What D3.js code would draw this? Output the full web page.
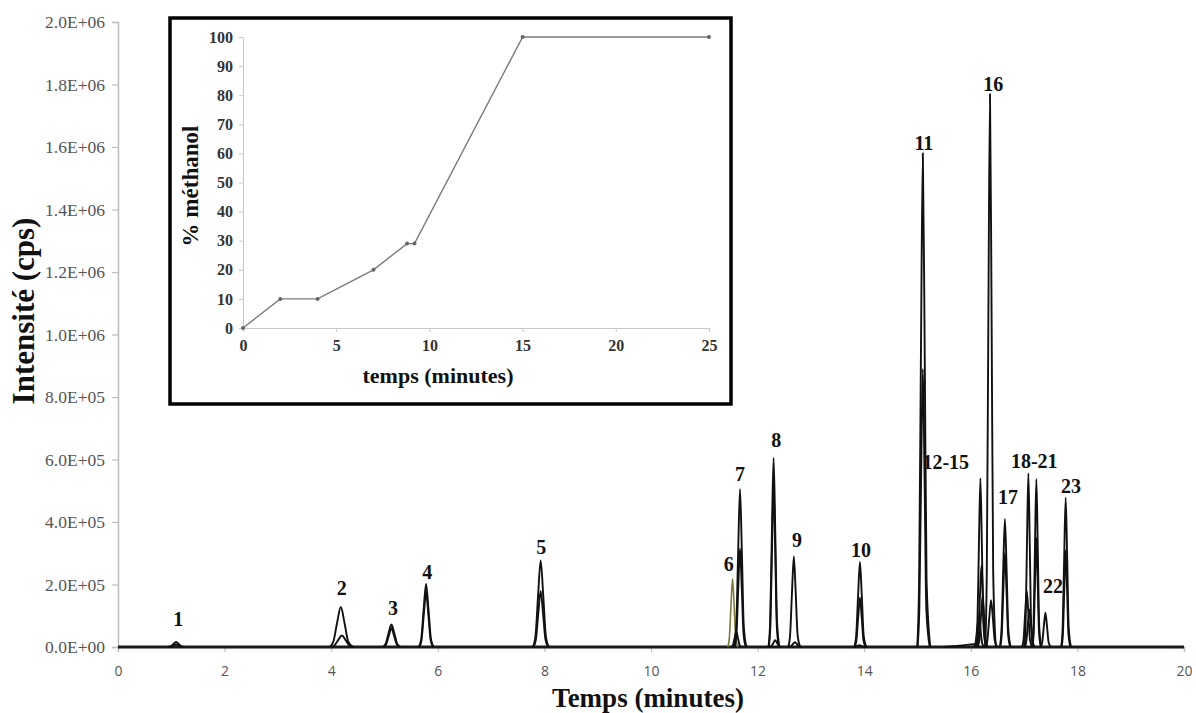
<!DOCTYPE html>
<html><head><meta charset="utf-8">
<script src="https://cdn.jsdelivr.net/npm/d3@7"></script>
<style>html,body{margin:0;padding:0;background:#fff;}svg{display:block;}</style>
</head><body>
<svg id="chart" width="1196" height="713"></svg>
<script>
// ---------- DATA ----------
const xTicks = [0,2,4,6,8,10,12,14,16,18,20];
const yTicks = [0,2e5,4e5,6e5,8e5,1e6,1.2e6,1.4e6,1.6e6,1.8e6,2e6];
const yTickLabels = ["0.0E+00","2.0E+05","4.0E+05","6.0E+05","8.0E+05","1.0E+06","1.2E+06","1.4E+06","1.6E+06","1.8E+06","2.0E+06"];

// chromatogram traces: [time (min), intensity (cps)]
const tracesBlack = [
  [[0.94,0],[0.99,2200],[1.04,9600],[1.09,16000],[1.14,9600],[1.19,2200],[1.24,0]],
  [[0.94,0],[0.99,1100],[1.04,4800],[1.09,8000],[1.14,4800],[1.19,1100],[1.24,0]],
  [[3.97,0],[4.04,17000],[4.11,77000],[4.18,128000],[4.25,77000],[4.32,17000],[4.41,0]],
  [[3.99,0],[4.06,5000],[4.13,22000],[4.20,37000],[4.27,22000],[4.34,5000],[4.43,0]],
  [[4.965,0],[5.02,9700],[5.075,43000],[5.13,72000],[5.185,43000],[5.24,9700],[5.30,0]],
  [[4.98,0],[5.03,8100],[5.08,36000],[5.13,60000],[5.18,36000],[5.23,8100],[5.29,0]],
  [[5.645,0],[5.69,27000],[5.735,121000],[5.78,202000],[5.825,121000],[5.87,27000],[5.92,0]],
  [[5.654,0],[5.696,24000],[5.738,105000],[5.78,175000],[5.822,105000],[5.864,24000],[5.91,0]],
  [[7.786,0],[7.834,37000],[7.882,166000],[7.93,277000],[7.978,166000],[8.026,37000],[8.08,0]],
  [[7.795,0],[7.84,24000],[7.885,107000],[7.93,179000],[7.975,107000],[8.02,24000],[8.07,0]],
  [[11.51,0],[11.54,7000],[11.57,30000],[11.60,50000],[11.63,30000],[11.66,7000],[11.70,0]],
  [[11.565,0],[11.60,68000],[11.635,303000],[11.67,505000],[11.705,303000],[11.74,68000],[11.79,0]],
  [[11.57,0],[11.604,43000],[11.637,189000],[11.67,315000],[11.703,189000],[11.736,43000],[11.78,0]],
  [[12.204,0],[12.236,82000],[12.268,363000],[12.30,605000],[12.332,363000],[12.364,82000],[12.41,0]],
  [[12.21,0],[12.24,70000],[12.27,312000],[12.30,520000],[12.33,312000],[12.36,70000],[12.40,0]],
  [[12.225,0],[12.26,3000],[12.295,13000],[12.33,22000],[12.365,13000],[12.40,3000],[12.44,0]],
  [[12.575,0],[12.61,39000],[12.645,174000],[12.68,290000],[12.715,174000],[12.75,39000],[12.80,0]],
  [[12.58,0],[12.62,2000],[12.66,9000],[12.70,15000],[12.74,9000],[12.78,2000],[12.83,0]],
  [[13.815,0],[13.85,37000],[13.885,163000],[13.92,272000],[13.955,163000],[13.99,37000],[14.04,0]],
  [[13.82,0],[13.854,21000],[13.887,95000],[13.92,158000],[13.953,95000],[13.986,21000],[14.03,0]],
  [[13.79,0],[13.83,800],[13.87,3600],[13.91,6000],[13.95,3600],[13.99,800],[14.04,0]],
  [[14.995,0],[15.03,213000],[15.065,948000],[15.10,1580000],[15.135,948000],[15.17,213000],[15.24,0]],
  [[15.00,0],[15.034,120000],[15.067,534000],[15.10,890000],[15.133,534000],[15.166,120000],[15.23,0]],
  [[15.50,0],[15.85,5000],[16.05,9000],[16.15,0]],
  [[16.096,0],[16.124,73000],[16.152,324000],[16.18,540000],[16.208,324000],[16.236,73000],[16.28,0]],
  [[16.11,0],[16.14,35000],[16.17,156000],[16.20,260000],[16.23,156000],[16.26,35000],[16.30,0]],
  [[16.13,0],[16.16,22000],[16.19,96000],[16.22,160000],[16.25,96000],[16.28,22000],[16.32,0]],
  [[16.06,0],[16.09,13500],[16.12,60000],[16.15,100000],[16.18,60000],[16.21,13500],[16.25,0]],
  [[16.27,0],[16.30,239000],[16.33,1062000],[16.36,1770000],[16.39,1062000],[16.42,239000],[16.47,0]],
  [[16.275,0],[16.31,20000],[16.345,90000],[16.38,150000],[16.415,90000],[16.45,20000],[16.50,0]],
  [[16.544,0],[16.576,55000],[16.608,246000],[16.64,410000],[16.672,246000],[16.704,55000],[16.75,0]],
  [[16.55,0],[16.58,40000],[16.61,180000],[16.64,300000],[16.67,180000],[16.70,40000],[16.74,0]],
  [[17.002,0],[17.028,75000],[17.054,333000],[17.08,555000],[17.106,333000],[17.132,75000],[17.17,0]],
  [[16.96,0],[16.99,24000],[17.02,108000],[17.05,180000],[17.08,108000],[17.11,24000],[17.15,0]],
  [[17.01,0],[17.04,16000],[17.07,72000],[17.10,120000],[17.13,72000],[17.16,16000],[17.20,0]],
  [[17.152,0],[17.178,73000],[17.204,323000],[17.23,538000],[17.256,323000],[17.282,73000],[17.32,0]],
  [[17.155,0],[17.18,47000],[17.205,210000],[17.23,350000],[17.255,210000],[17.28,47000],[17.315,0]],
  [[17.31,0],[17.34,15000],[17.37,66000],[17.40,110000],[17.43,66000],[17.46,15000],[17.50,0]],
  [[17.696,0],[17.724,65000],[17.752,287000],[17.78,478000],[17.808,287000],[17.836,65000],[17.88,0]],
  [[17.702,0],[17.728,42000],[17.754,186000],[17.78,310000],[17.806,186000],[17.832,42000],[17.87,0]]
];
const traceOlive = [[11.44,0],[11.47,29000],[11.50,131000],[11.53,218000],[11.56,131000],[11.59,29000],[11.63,0]];
const baseline = [[0,0],[20,0]];

// peak labels: text, time, intensity at label baseline
const peakLabels = ["1","2","3","4","5","6","7","8","9","10","11","12-15","16","17","18-21","22","23"];
const peakLabelT = [1.13,4.20,5.16,5.80,7.94,11.46,11.67,12.35,12.74,13.94,15.12,15.53,16.42,16.70,17.19,17.54,17.88];
const peakLabelV = [67000,166000,102000,218000,298000,243000,531000,640000,320000,288000,1590000,570000,1780000,458000,573000,173000,493000];

// inset: methanol gradient
const gradTime = [0,2,4,7,8.8,9.2,15,25];
const gradPct = [0,10,10,20,29,29,100,100];
const insetXTicks = [0,5,10,15,20,25];
const insetYTicks = [0,10,20,30,40,50,60,70,80,90,100];

// ---------- DRAW ----------
const svg = d3.select("#chart");
const serif = "'Liberation Serif', 'Times New Roman', serif";
const x = d3.scaleLinear().domain([0,20]).range([118,1184]);
const y = d3.scaleLinear().domain([0,2e6]).range([647,22]);

// y axis
const gy = svg.append("g").attr("transform","translate(118,0)")
  .call(d3.axisLeft(y).tickValues(yTicks).tickSize(6).tickPadding(7).tickFormat((d,i)=>yTickLabels[i]));
gy.select(".domain").attr("stroke","#bdbdbd").attr("stroke-width",1.5);
gy.selectAll(".tick line").attr("stroke","#bdbdbd").attr("stroke-width",1.2);
gy.selectAll(".tick text").attr("font-family",serif).attr("font-size",17.5).attr("fill","#555");

// x axis
const gx = svg.append("g").attr("transform","translate(0,647)")
  .call(d3.axisBottom(x).tickValues(xTicks).tickSize(5).tickPadding(14).tickFormat(d3.format("d")));
gx.select(".domain").attr("stroke","#bdbdbd").attr("stroke-width",1.5);
gx.selectAll(".tick line").attr("stroke","#bdbdbd").attr("stroke-width",1.2);
gx.selectAll(".tick text").attr("font-family","'Open Sans', sans-serif").attr("font-size",14).attr("fill","#555");

// curves
const line = d3.line().x(d=>x(d[0])).y(d=>y(d[1])).curve(d3.curveMonotoneX);
svg.append("path").datum(baseline).attr("d",d3.line().x(d=>x(d[0])).y(d=>y(d[1])))
  .attr("stroke","#1a1a1a").attr("stroke-width",3.2).attr("fill","none");
svg.append("path").datum(traceOlive).attr("d",line)
  .attr("stroke","#7d7a3c").attr("stroke-width",1.6).attr("fill","none");
svg.append("g").selectAll("path").data(tracesBlack).join("path")
  .attr("d",line).attr("fill","none").attr("stroke","#111").attr("stroke-width",1.9)
  .attr("stroke-linejoin","round");

// peak labels
svg.append("g").selectAll("text").data(peakLabels).join("text")
  .attr("x",(d,i)=>x(peakLabelT[i])).attr("y",(d,i)=>y(peakLabelV[i]))
  .attr("text-anchor","middle").attr("font-family",serif)
  .attr("font-weight","bold").attr("font-size",20).attr("fill","#111").text(d=>d);

// axis titles
svg.append("text").attr("x",648).attr("y",707).attr("text-anchor","middle")
  .attr("font-family",serif).attr("font-weight","bold").attr("font-size",27)
  .attr("fill","#111").text("Temps (minutes)");
svg.append("text").attr("transform","translate(34,311) rotate(-90)").attr("text-anchor","middle")
  .attr("font-family",serif).attr("font-weight","bold").attr("font-size",31)
  .attr("fill","#111").text("Intensité (cps)");

// ---------- INSET ----------
svg.append("rect").attr("x",170).attr("y",18).attr("width",561).attr("height",386)
  .attr("fill","#fff").attr("stroke","#000").attr("stroke-width",3.5);
const ix = d3.scaleLinear().domain([0,25]).range([243,709]);
const iy = d3.scaleLinear().domain([0,100]).range([328,37]);
const giy = svg.append("g").attr("transform","translate(243,0)")
  .call(d3.axisLeft(iy).tickValues(insetYTicks).tickSize(4).tickPadding(6));
giy.select(".domain").attr("stroke","#c8c8c8");
giy.selectAll(".tick line").attr("stroke","#c8c8c8");
giy.selectAll(".tick text").attr("font-family",serif).attr("font-weight","bold")
  .attr("font-size",16).attr("fill","#333");
const gix = svg.append("g").attr("transform","translate(0,328)")
  .call(d3.axisBottom(ix).tickValues(insetXTicks).tickSize(4).tickPadding(8));
gix.select(".domain").attr("stroke","#c8c8c8");
gix.selectAll(".tick line").attr("stroke","#c8c8c8");
gix.selectAll(".tick text").attr("font-family",serif).attr("font-weight","bold")
  .attr("font-size",16).attr("fill","#333");

const grad = gradTime.map((t,i)=>[t,gradPct[i]]);
svg.append("path").datum(grad).attr("d",d3.line().x(d=>ix(d[0])).y(d=>iy(d[1])))
  .attr("fill","none").attr("stroke","#7a7a7a").attr("stroke-width",1.4);
svg.append("g").selectAll("circle").data(grad).join("circle")
  .attr("cx",d=>ix(d[0])).attr("cy",d=>iy(d[1])).attr("r",2).attr("fill","#666");

svg.append("text").attr("x",438).attr("y",383).attr("text-anchor","middle")
  .attr("font-family",serif).attr("font-weight","bold").attr("font-size",22)
  .attr("fill","#111").text("temps (minutes)");
svg.append("text").attr("transform","translate(198,186) rotate(-90)").attr("text-anchor","middle")
  .attr("font-family",serif).attr("font-weight","bold").attr("font-size",23)
  .attr("fill","#111").text("% méthanol");
</script>
</body></html>
